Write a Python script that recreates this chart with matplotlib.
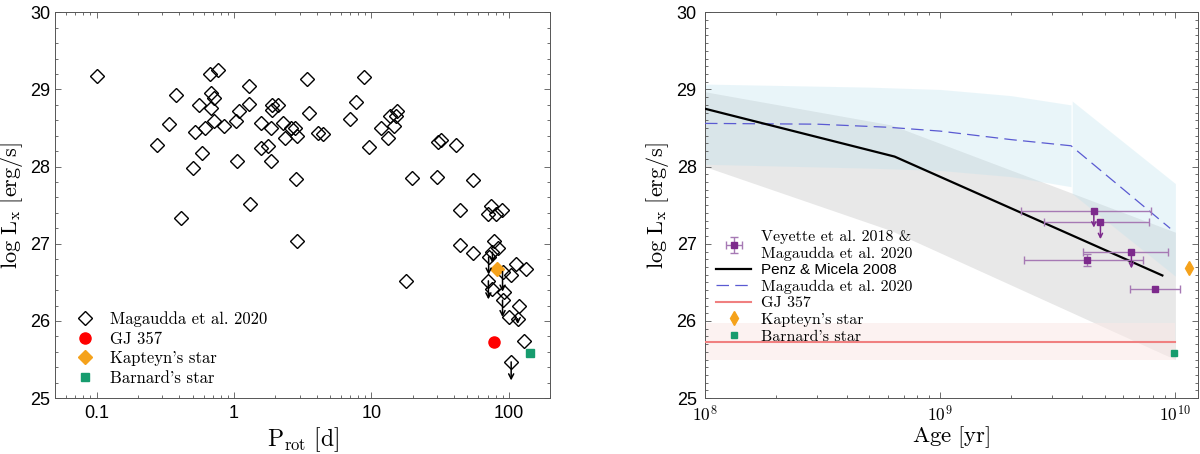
import matplotlib
matplotlib.use("Agg")
import matplotlib.pyplot as plt
import matplotlib.ticker as mticker
import numpy as np

plt.rcParams['font.family'] = ['Liberation Sans', 'DejaVu Sans']
plt.rcParams['mathtext.fontset'] = 'cm'

# ---- left panel: Lx vs rotation period (Magaudda et al. 2020 sample)
mag_prot = [0.1, 0.277, 0.338, 0.38, 0.41, 0.50, 0.52, 0.56, 0.59, 0.62,
            0.67, 0.68, 0.68, 0.71, 0.71, 0.76, 0.85, 1.03, 1.05, 1.09,
            1.28, 1.29, 1.30, 1.57, 1.57, 1.76, 1.87, 1.87, 1.89, 1.89,
            2.08, 2.26, 2.36, 2.60, 2.77, 2.83, 2.86, 2.87, 3.38, 3.54,
            4.07, 4.43, 7.0, 7.78, 8.79, 9.68, 11.7, 13.3, 13.6, 14.5,
            15.0, 15.3, 18.0, 19.9, 29.9, 30.4, 31.9, 41.0, 44.0, 44.0,
            54.6, 54.5, 70.0, 74.0, 80.0, 89.0, 78.6, 83.0, 76.0, 71.3,
            90.0, 113.0, 104.0, 134.0, 71.0, 75.5, 92.0, 90.0, 100.0, 118.0,
            116.0, 130.0, 104.0]
mag_lx = [29.17, 28.28, 28.55, 28.93, 27.34, 27.98, 28.45, 28.80, 28.18, 28.50,
          29.20, 28.76, 28.96, 28.89, 28.59, 29.25, 28.53, 28.59, 28.07, 28.72,
          28.81, 29.04, 27.52, 28.56, 28.24, 28.27, 28.07, 28.50, 28.80, 28.74,
          28.80, 28.57, 28.37, 28.50, 28.50, 27.84, 27.04, 28.40, 29.14, 28.70,
          28.44, 28.42, 28.62, 28.84, 29.16, 28.26, 28.50, 28.37, 28.65, 28.52,
          28.65, 28.72, 26.52, 27.85, 27.87, 28.32, 28.35, 28.28, 27.44, 26.98,
          27.83, 26.88, 27.39, 27.49, 27.39, 27.44, 27.04, 26.95, 26.89, 26.83,
          26.64, 26.74, 26.60, 26.67, 26.52, 26.41, 26.37, 26.27, 26.05, 26.20,
          26.03, 25.74, 25.47]
# upper limits (arrows): period, start value, end value
ul_prot = [71.3, 71.0, 90.0, 90.0, 116.0, 104.0, 76.0]
ul_top = [26.83, 26.52, 26.64, 26.27, 26.03, 25.47, 26.89]
ul_bot = [26.60, 26.28, 26.38, 26.05, 25.96, 25.23, 26.75]

gj357_prot, gj357_lx = [77.6], [25.73]
kap_prot, kap_lx = [82.0], [26.67]
bar_prot, bar_lx = [142.0], [25.58]

# ---- right panel: Lx vs age
penz_age = [1e8, 6.4e8, 8.8e9]
penz_lx = [28.75, 28.13, 26.59]
gray_age = [1e8, 6.2e8, 1e10]
gray_hi = [28.97, 28.54, 27.15]
gray_lo = [28.0, 27.17, 25.5]

mag_age = [1e8, 3e8, 6e8, 1e9, 2e9, 3.6e9, 9.5e9]
mag_curve = [28.56, 28.55, 28.51, 28.46, 28.35, 28.27, 27.2]
band1_age = [1e8, 5e8, 1e9, 2e9, 3.6e9]
band1_hi = [29.07, 29.03, 29.0, 28.92, 28.8]
band1_lo = [28.03, 27.98, 27.95, 27.87, 27.74]
band2_age = [3.64e9, 1e10]
band2_hi = [28.85, 27.78]
band2_lo = [27.65, 26.58]

vey_age = [4.5e9, 4.8e9, 6.5e9, 4.2e9, 8.2e9]
vey_lx = [27.43, 27.28, 26.90, 26.79, 26.41]
vey_age_lo = [2.2e9, 2.75e9, 4.05e9, 2.28e9, 6.4e9]
vey_age_hi = [7.9e9, 7.7e9, 9.3e9, 7.3e9, 1.05e10]
vey_lx_err = [np.nan, np.nan, np.nan, 0.08, np.nan]
vey_ul = [True, True, True, False, False]

gj357_band = [25.49, 25.97]
gj357_age_max = 1e10
kap_age, kap_lx_age = [1.14e10], [26.68]
bar_age, bar_lx_age = [9.9e9], [25.59]

frame_col = '#555555'
purple = '#7d2a8c'
orange = '#f5a21b'
green = '#179c6e'

fig = plt.figure(figsize=(12, 4.54), dpi=100)
ax1 = fig.add_axes([0.046, 0.123, 0.4125, 0.850])
ax2 = fig.add_axes([0.5875, 0.123, 0.411, 0.850])


def style(ax, ystep, ypad):
    for s in ax.spines.values():
        s.set_color(frame_col)
        s.set_linewidth(0.7)
    ax.tick_params(which='both', direction='in', top=True, right=True,
                   color=frame_col, labelsize=13, width=0.6)
    ax.tick_params(which='major', length=4)
    ax.tick_params(which='minor', length=2.2)
    ax.tick_params(axis='x', pad=5)
    ax.tick_params(axis='y', pad=ypad)
    ax.set_ylim(25, 30)
    ax.yaxis.set_major_locator(mticker.MultipleLocator(1))
    ax.yaxis.set_minor_locator(mticker.MultipleLocator(ystep))
    ax.set_ylabel(r'$\log\,\mathrm{L_x}\ [\mathrm{erg/s}]$', fontsize=16, labelpad=4)


# left
for p, a, b in zip(ul_prot, ul_top, ul_bot):
    ax1.annotate('', xy=(p, b), xytext=(p, a),
                 arrowprops=dict(arrowstyle='->,head_length=0.35,head_width=0.18',
                                 color='black', lw=1.1, shrinkA=0, shrinkB=0))
ax1.plot(mag_prot, mag_lx, 'D', ms=7, mfc='none', mec='black', mew=1.0,
         label='Magaudda et al. 2020')
ax1.plot(gj357_prot, gj357_lx, 'o', ms=8, color='#ff0000', label='GJ 357')
ax1.plot(kap_prot, kap_lx, 'D', ms=7, color=orange, label="Kapteyn's star")
ax1.plot(bar_prot, bar_lx, 's', ms=6, color=green, label="Barnard's star")
ax1.set_xscale('log')
ax1.set_xlim(0.05, 200)
ax1.xaxis.set_major_locator(mticker.FixedLocator([0.1, 1, 10, 100]))
ax1.xaxis.set_major_formatter(mticker.FixedFormatter(['0.1', '1', '10', '100']))
style(ax1, 0.2, 3.5)
ax1.set_xlabel(r'$\mathrm{P_{rot}}\ [\mathrm{d}]$', fontsize=17, labelpad=2)
leg1 = ax1.legend(loc='lower left', bbox_to_anchor=(0.03, 0.015), frameon=False,
                  prop={'family': 'cmr10', 'size': 12}, handlelength=1.0,
                  handletextpad=1.0, labelspacing=0.25, borderaxespad=0)

# right
ax2.fill_between(gray_age, gray_lo, gray_hi, color='#e8e8e8', lw=0)
ax2.fill_between(band1_age, band1_lo, band1_hi, color=(0.727, 0.883, 0.933),
                 alpha=0.3, lw=0)
ax2.fill_between(band2_age, band2_lo, band2_hi, color=(0.727, 0.883, 0.933),
                 alpha=0.3, lw=0)
ax2.fill_between([1e8, gj357_age_max], gj357_band[0], gj357_band[1],
                 color='#fbe9e7', alpha=0.55, lw=0)
ax2.plot([1e8, gj357_age_max], [gj357_lx[0]] * 2, color='#f08080', lw=1.5,
         label='GJ 357', zorder=3)
ax2.plot(mag_age, mag_curve, '--', color='#5a5ad2', lw=0.9, dashes=(10, 5),
         label='Magaudda et al. 2020', zorder=3)
ax2.plot(penz_age, penz_lx, '-', color='black', lw=1.6,
         label='Penz & Micela 2008', zorder=4)

xerr = [np.array(vey_age) - np.array(vey_age_lo),
        np.array(vey_age_hi) - np.array(vey_age)]
eb = ax2.errorbar(vey_age, vey_lx, xerr=xerr, yerr=vey_lx_err, fmt='s', ms=5,
                  color=purple, ecolor='#a679b4', elinewidth=1.0, capsize=3,
                  capthick=1.0, zorder=5, label='Veyette et al. 2018 &\nMagaudda et al. 2020')
for a, l, u in zip(vey_age, vey_lx, vey_ul):
    if u:
        ax2.annotate('', xy=(a, l - 0.22), xytext=(a, l),
                     arrowprops=dict(arrowstyle='->,head_length=0.3,head_width=0.15',
                                     color=purple, lw=1.1, shrinkA=0, shrinkB=0),
                     zorder=5)
ax2.plot(kap_age, kap_lx_age, 'd', ms=7, color=orange, label="Kapteyn's star", zorder=5)
ax2.plot(bar_age, bar_lx_age, 's', ms=4.5, color=green, label="Barnard's star", zorder=5)

ax2.set_xscale('log')
ax2.set_xlim(1e8, 1.25e10)
ax2.xaxis.set_major_locator(mticker.FixedLocator([1e8, 1e9, 1e10]))
ax2.xaxis.set_major_formatter(mticker.FixedFormatter(
    [r'$\mathsf{10^{8}}$', r'$\mathsf{10^{9}}$', r'$\mathsf{10^{10}}$']))
style(ax2, 0.1, 6)
ax2.tick_params(axis='x', pad=4, labelsize=12.5)
ax2.set_xlabel(r'$\mathrm{Age}\ [\mathrm{yr}]$', fontsize=16.5, labelpad=0)

h, l = ax2.get_legend_handles_labels()
order = [l.index(k) for k in ['Veyette et al. 2018 &\nMagaudda et al. 2020',
                              'Penz & Micela 2008', 'Magaudda et al. 2020',
                              'GJ 357', "Kapteyn's star", "Barnard's star"]]
leg2 = ax2.legend([h[i] for i in order], [l[i] for i in order], loc='lower left',
                  bbox_to_anchor=(0.01, 0.125), frameon=False,
                  prop={'family': 'cmr10', 'size': 11.5}, handlelength=2.2,
                  handletextpad=0.6, labelspacing=0.15, borderaxespad=0)
leg2.get_texts()[1].set_family('Liberation Sans')
leg2.get_texts()[1].set_size(11)

fig.savefig('out.png', dpi=100)
